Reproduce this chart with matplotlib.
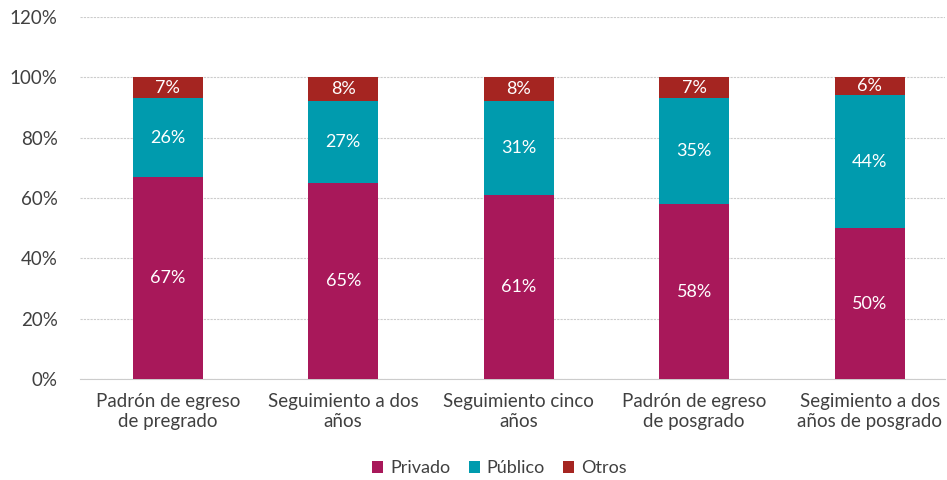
import matplotlib
matplotlib.use("Agg")
import matplotlib.pyplot as plt
import numpy as np

plt.rcParams["font.family"] = ["Lato", "DejaVu Sans"]

CATS = ["Padrón de egreso\nde pregrado", "Seguimiento a dos\naños",
        "Seguimiento cinco\naños", "Padrón de egreso\nde posgrado",
        "Segimiento a dos\naños de posgrado"]
PRIVADO = [67, 65, 61, 58, 50]
PUBLICO = [26, 27, 31, 35, 44]
OTROS = [7, 8, 8, 7, 6]
SERIES = [("Privado", PRIVADO, "#A8185A"),
          ("Público", PUBLICO, "#009BAE"),
          ("Otros", OTROS, "#A52521")]

fig = plt.figure(figsize=(9.47, 4.8), dpi=100)
ax = fig.add_axes([0.0845, 0.2104, 0.9135, 0.7542])

x = np.arange(len(CATS))
bottom = np.zeros(len(CATS))
for name, vals, col in SERIES:
    v = np.array(vals, dtype=float)
    ax.bar(x, v, 0.4, bottom=bottom, color=col, label=name, zorder=3)
    for xi, b, h in zip(x, bottom, v):
        ax.text(xi, b + h / 2, f"{int(h)}%", ha="center", va="center",
                color="white", fontsize=13, zorder=4)
    bottom += v

ax.set_xlim(-0.5, 4.43)
ax.set_ylim(0, 120)
ax.set_yticks(range(0, 121, 20))
ax.set_yticklabels([f"{t}%" for t in range(0, 121, 20)])
ax.set_xticks(x)
ax.set_xticklabels(CATS, linespacing=1.25)
ax.tick_params(axis="both", length=0, labelsize=13.5, colors="#404040")
ax.tick_params(axis="y", pad=16)
ax.tick_params(axis="x", pad=10)
ax.yaxis.grid(True, color="#cccccc", linestyle=(0, (2, 1)), linewidth=0.8,
              zorder=0)
for s in ["top", "right", "left"]:
    ax.spines[s].set_visible(False)
ax.spines["bottom"].set_color("#cccccc")

ax.legend(loc="upper center", bbox_to_anchor=(0.485, -0.18), ncol=3,
          frameon=False, fontsize=13, handlelength=0.6, handleheight=0.6,
          handletextpad=0.4, columnspacing=1.0, labelcolor="#404040")

fig.savefig("out.png", dpi=100)
